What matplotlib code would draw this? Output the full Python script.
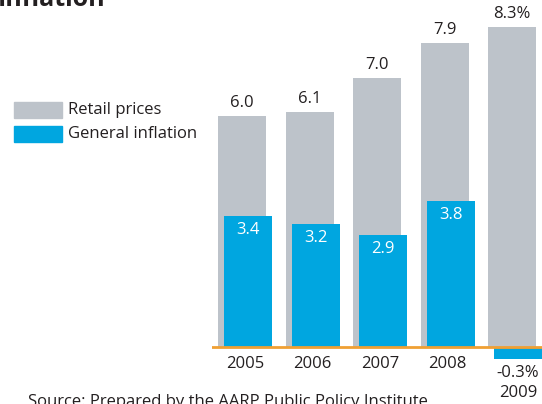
import matplotlib
matplotlib.use('AGG')

import matplotlib.pyplot as plt
from matplotlib.patches import Rectangle

years = ['2005', '2006', '2007', '2008', '2009']
retail = [6.0, 6.1, 7.0, 7.9, 8.3]
general = [3.4, 3.2, 2.9, 3.8, -0.3]
retail_labels = ['6.0', '6.1', '7.0', '7.9', '8.3%']
general_labels = ['3.4', '3.2', '2.9', '3.8', '-0.3%']

GRAY = '#bdc3ca'
BLUE = '#00a6e0'
ORANGE = '#f0a033'
TEXT = '#231f20'

plt.rcParams['font.family'] = ['Open Sans', 'DejaVu Sans']


def label(ax, x, y, s, dy, color=TEXT):
  ax.annotate(s, (x, y), xytext=(0, dy), textcoords='offset pixels',
              ha='center', va='center', fontsize=12, color=color, zorder=4)


def main():
  W, H = 542, 404
  fig = plt.figure(figsize=(W / 100, H / 100), dpi=100)
  left = 212
  ax = fig.add_axes([left / W, 0, 1 - left / W, 1])
  # 67.5 px per category, 38.5 px per percentage point, zero at y=347
  ax.set_xlim((left - 245) / 67.5, (W - 245) / 67.5)
  ax.set_ylim(-(H - 347) / 38.5, 347 / 38.5)
  ax.axis('off')

  off = 3 / 67.5
  width = 48 / 67.5
  x = list(range(len(years)))
  ax.bar([i - off for i in x], retail, width=width, color=GRAY, zorder=1)
  ax.bar([i + off for i in x], general, width=width, color=BLUE, zorder=2)
  ax.axhline(0, color=ORANGE, lw=2, zorder=3)

  for i in x:
    label(ax, i - off, retail[i], retail_labels[i], 13)
    if general[i] > 0:
      label(ax, i + off, general[i], general_labels[i], -14, 'white')
      label(ax, i, 0, years[i], -17)
    else:
      label(ax, i + off, 0, general_labels[i], -26)
      label(ax, i + off, 0, years[i], -46)

  # legend
  fig.patches.append(Rectangle((14 / W, 1 - 118 / H), 48 / W, 16 / H,
                               transform=fig.transFigure, color=GRAY))
  fig.patches.append(Rectangle((14 / W, 1 - 142 / H), 48 / W, 16 / H,
                               transform=fig.transFigure, color=BLUE))
  fig.text(68 / W, 1 - 110 / H, 'Retail prices', ha='left', va='center',
           fontsize=12, color=TEXT)
  fig.text(68 / W, 1 - 134 / H, 'General inflation', ha='left', va='center',
           fontsize=12, color=TEXT)

  # title and source, both cut by the image edges
  fig.text(-2 / W, 1 - 6 / H, 'Inflation', ha='left', va='baseline',
           fontsize=18, fontweight='bold', color=TEXT)
  fig.text(28 / W, 1 - 406 / H, 'Source: Prepared by the AARP Public Policy Institute',
           ha='left', va='baseline', fontsize=12, color=TEXT)

  fig.savefig('out.png', dpi=100)


if __name__ == "__main__":
  main()
